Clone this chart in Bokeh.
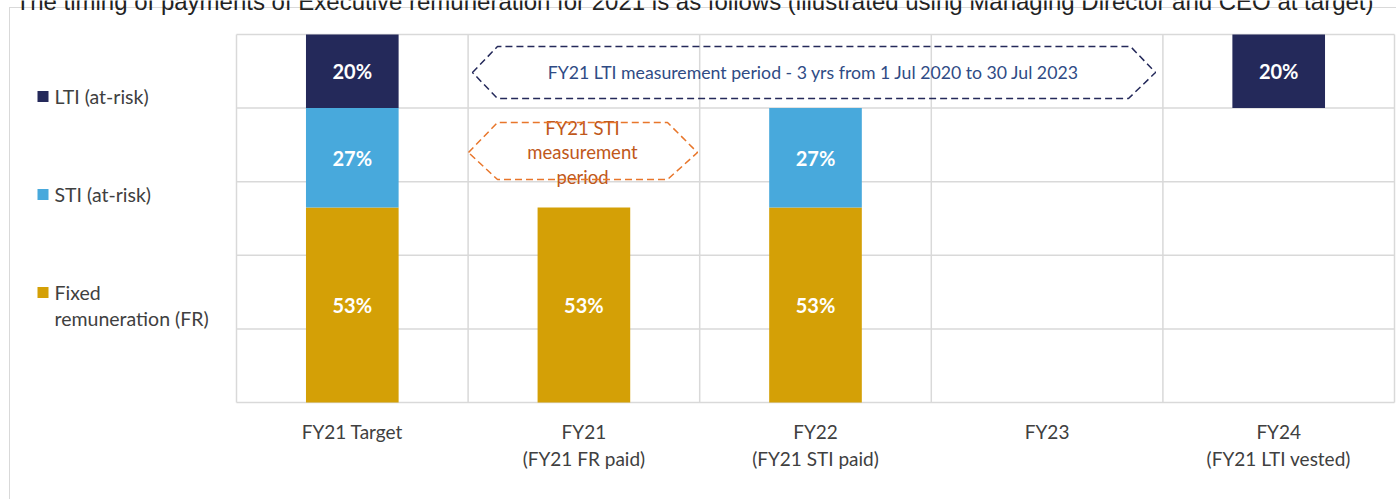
import numpy as np
from bokeh.plotting import figure
from bokeh.models import Range1d, FixedTicker, PolyAnnotation, ColumnDataSource
from bokeh.core.properties import value
from bokeh.embed import file_html
from bokeh.resources import INLINE

# ---------------- data ----------------
categories = ["FY21 Target", "FY21", "FY22", "FY23", "FY24"]
tick_labels = ["FY21 Target", "FY21\n(FY21 FR paid)", "FY22\n(FY21 STI paid)",
               "FY23", "FY24\n(FY21 LTI vested)"]
base = [0, 0, 0, 0, 80]          # invisible offset (FY24 LTI sits at the top)
fr = [53, 53, 53, 0, 0]          # Fixed remuneration (FR)
sti = [27, 0, 27, 0, 0]          # STI (at-risk)
lti = [20, 0, 0, 0, 20]          # LTI (at-risk)
series = [("fr", fr, "#D4A006"), ("sti", sti, "#48A9DC"), ("lti", lti, "#24295A")]
legend_labels = {"lti": ["LTI (at-risk)"], "sti": ["STI (at-risk)"],
                 "fr": ["Fixed", "remuneration (FR)"]}
y_ticks = [0, 20, 40, 60, 80, 100]
title_text = ("The timing of payments of Executive remuneration for 2021 is as follows "
              "(illustrated using Managing Director and CEO at target)")
lti_note = "FY21 LTI measurement period - 3 yrs from 1 Jul 2020 to 30 Jul 2023"
sti_note = ["FY21 STI", "measurement", "period"]

# ---------------- layout ----------------
W, H = 1396, 499
PL, PR, PT, PB = 236, 1394, 34, 402      # plot-area box in page pixels
FB = 404                                  # frame bottom (axis panel below)
n = len(categories)
ux = (PR - PL) / n
uy = (PB - PT) / 100.0

def X(px):
    return (px - PL) / ux

def Y(py):
    return (PB - py) / uy

GRID = "#D9D9D9"
p = figure(width=W, height=H, output_backend="svg", toolbar_location=None,
           x_range=Range1d(X(0), X(W)), y_range=Range1d(Y(FB), Y(0)),
           min_border_left=0, min_border_right=0, min_border_top=0,
           min_border_bottom=H - FB, outline_line_color=None,
           background_fill_color=None, border_fill_color=None)
p.styles = {
    "position": "absolute", "left": "0px", "top": "0px",
    "background-color": "white",
    "background-image": f"linear-gradient({GRID},{GRID}), linear-gradient({GRID},{GRID})",
    "background-position": "9px 7px, 9px 7px",
    "background-size": "1px 500px, 1400px 1px",
    "background-repeat": "no-repeat",
}
p.xgrid.visible = False
p.ygrid.visible = False
p.yaxis.visible = False

# plot-area grid and outline
p.segment(x0=[0] * len(y_ticks), x1=[n] * len(y_ticks), y0=y_ticks, y1=y_ticks,
          line_color=GRID, line_width=1.5)
p.segment(x0=list(range(n + 1)), x1=list(range(n + 1)), y0=[0] * (n + 1),
          y1=[100] * (n + 1), line_color=GRID, line_width=1.5)

# stacked bars
xs = np.arange(n) + 0.5
bottom = np.array(base, dtype=float)
lab_x, lab_y, lab_t = [], [], []
for key, vals, col in series:
    vals = np.array(vals, dtype=float)
    top = bottom + vals
    m = vals > 0
    src = ColumnDataSource(dict(x=xs[m], b=bottom[m], t=top[m]))
    p.vbar(x="x", bottom="b", top="t", width=0.4, source=src,
           fill_color=col, line_color=None)
    for i in range(n):
        if vals[i] > 0:
            lab_x.append(xs[i]); lab_y.append((bottom[i] + top[i]) / 2)
            lab_t.append(f"{int(vals[i])}%")
    bottom = top

p.text(x=lab_x, y=lab_y, text=lab_t, text_color="white", text_font=value("Lato"),
       text_font_style="bold", text_font_size="20px", text_align="center",
       text_baseline="middle")

# category axis
p.xaxis.ticker = FixedTicker(ticks=list(xs))
p.xaxis.major_label_overrides = {float(x): t for x, t in zip(xs, tick_labels)}
p.xaxis.axis_line_color = None
p.xaxis.major_tick_line_color = None
p.xaxis.minor_tick_line_color = None
p.xaxis.major_label_text_font = "Lato"
p.xaxis.major_label_text_font_size = "19px"
p.xaxis.major_label_text_color = "#404040"
p.xaxis.major_label_standoff = 9

# title (clipped at the top as in the source)
p.text(x=[X(15)], y=[Y(1)], text=[title_text], text_font=value("Liberation Sans"),
       text_font_size="24px", text_color="#222222", text_baseline="alphabetic")

# legend (left side)
leg_pos = {"lti": 96, "sti": 194, "fr": 292}
for key, vals, col in series:
    cy = leg_pos[key]
    p.quad(left=[X(37)], right=[X(48)], top=[Y(cy - 5.5)], bottom=[Y(cy + 5.5)],
           fill_color=col, line_color=None)
    lines = legend_labels[key]
    p.text(x=[X(54)] * len(lines), y=[Y(cy + 26 * j) for j in range(len(lines))],
           text=lines, text_font=value("Lato"), text_font_size="19.5px",
           text_color="#404040", text_baseline="middle")

# LTI measurement period callout
p.add_layout(PolyAnnotation(xs=[X(472), X(497), X(1130), X(1155), X(1128), X(497)],
                            ys=[Y(72), Y(46), Y(46), Y(72), Y(98), Y(98)],
                            fill_alpha=0, line_color="#24295A", line_alpha=1,
                            line_width=1.5, line_dash="7 4"))
p.text(x=[X(813)], y=[Y(72)], text=[lti_note], text_font=value("Lato"),
       text_font_size="17.7px", text_color="#2F4B85", text_align="center",
       text_baseline="middle")

# STI measurement period callout
p.add_layout(PolyAnnotation(xs=[X(468), X(497), X(667), X(697), X(667), X(497)],
                            ys=[Y(152), Y(122), Y(122), Y(152), Y(179), Y(179)],
                            fill_alpha=0, line_color="#E8762B", line_alpha=1,
                            line_width=1.5, line_dash="7 4"))
p.text(x=[X(582)] * 3, y=[Y(127 + 24.5 * j) for j in range(3)], text=sti_note,
       text_font=value("Lato"), text_font_size="18.5px", text_color="#C0581A",
       text_align="center", text_baseline="middle")

open("out.html", "w").write(file_html(p, INLINE))
